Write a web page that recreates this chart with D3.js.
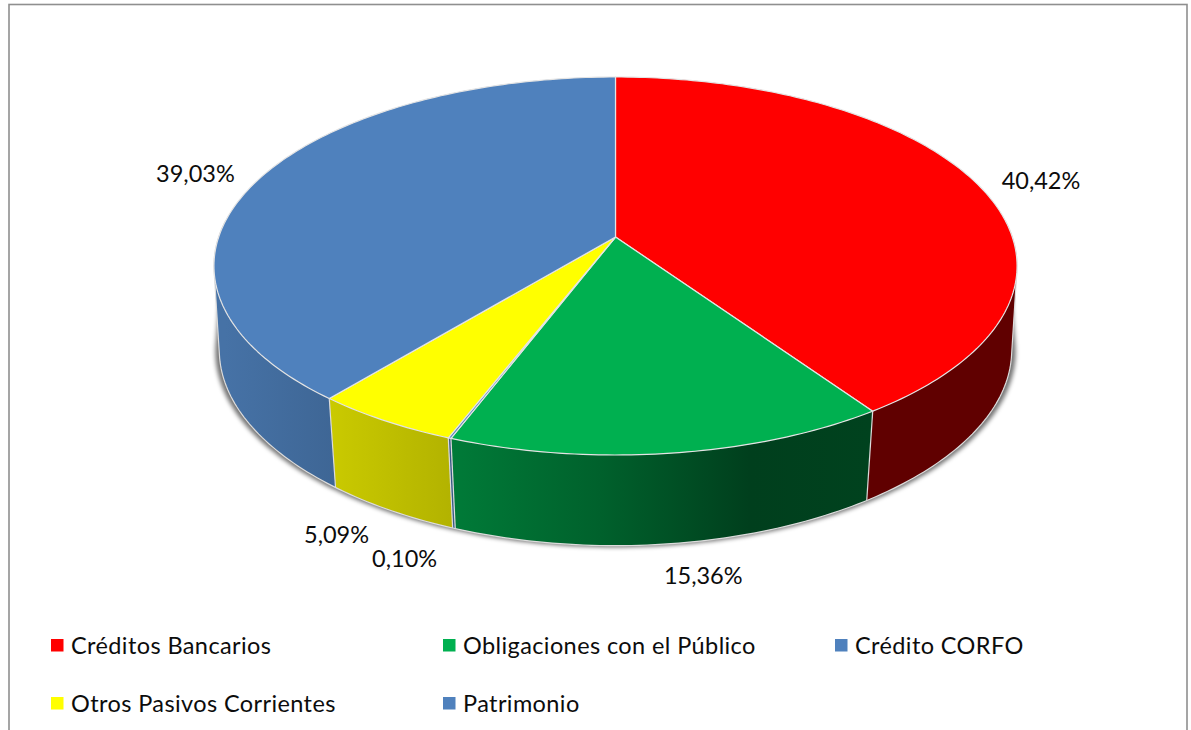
<!DOCTYPE html>
<html>
<head>
<meta charset="utf-8">
<script src="https://cdn.jsdelivr.net/npm/d3@7"></script>
<style>
  html, body { margin: 0; padding: 0; background: #fff; }
  svg { display: block; }
  text { font-family: Lato, "Open Sans", sans-serif; fill: #0c0c0c; }
</style>
</head>
<body>
<svg id="chart" width="1191" height="730"></svg>
<script>
// Composition of liabilities and equity, in percent
const categories = ["Créditos Bancarios", "Obligaciones con el Público", "Crédito CORFO", "Otros Pasivos Corrientes", "Patrimonio"];
const shares = [40.42, 15.36, 0.10, 5.09, 39.03];
const sliceColors = ["#ff0000", "#00b050", "#4f81bd", "#ffff00", "#4f81bd"];

// Brightness of the rim as it turns away from the light, left to right
const rimLightX = [225, 335, 450, 600, 750, 870];
const rimLightK = [0.88, 0.79, 0.70, 0.55, 0.36, 0.375];

// Label offset from the rim midpoint of each slice
const labelOffsets = [[63, -4], [32, 123], [-45, 121], [-48, 114], [-65, -4]];

// Projection of the tilted disc
const cx = 615.5, apexY = 237;
const persp = -0.1534, depthA = 148.2, radiusX = 396.8;
const topCentreY = 266, rimScaleY = 1.03, rimCentreY = 351;
const edgeColor = "#dcdcdc";

function projectTop(theta) {
  const u = Math.sin(theta), v = -Math.cos(theta);
  const w = 1 + persp * v;
  return [cx + radiusX * u / w, (depthA * v + apexY) / w];
}
// The lower edge narrows a little more towards the viewer than at the flanks
function projectBottom(theta) {
  const [x, y] = projectTop(theta);
  const v = -Math.cos(theta);
  const scaleX = 0.987 - 0.015 * v * v;
  return [cx + scaleX * (x - cx), rimCentreY + rimScaleY * (y - topCentreY)];
}
function sampleAngles(a0, a1) {
  const n = Math.max(2, Math.ceil((a1 - a0) / (Math.PI / 180)) + 1);
  return d3.range(n).map(i => a0 + (a1 - a0) * i / (n - 1));
}
const deg = Math.PI / 180;

const svg = d3.select("#chart");
const defs = svg.append("defs");
const pathLine = d3.line();

// Chart frame; its lower edge runs past the bottom of the page
svg.append("rect")
  .attr("x", 9).attr("y", 4.5).attr("width", 1178).attr("height", 780)
  .attr("fill", "#fff").attr("stroke", "#8f8f8f").attr("stroke-width", 1.6);

defs.append("filter").attr("id", "soften")
  .attr("x", "-5%").attr("y", "-5%").attr("width", "110%").attr("height", "115%")
  .append("feGaussianBlur").attr("stdDeviation", 2);

// One horizontal gradient per colour, shared light direction
const lightScale = d3.scaleLinear().domain(rimLightX).range(rimLightK).clamp(true);
sliceColors.forEach((c, i) => {
  const grad = defs.append("linearGradient").attr("id", "rim" + i)
    .attr("gradientUnits", "userSpaceOnUse")
    .attr("x1", rimLightX[0]).attr("x2", rimLightX[rimLightX.length - 1])
    .attr("y1", 0).attr("y2", 0);
  const base = d3.rgb(c);
  const span = rimLightX[rimLightX.length - 1] - rimLightX[0];
  rimLightX.forEach(x => {
    const k = lightScale(x);
    grad.append("stop")
      .attr("offset", (x - rimLightX[0]) / span)
      .attr("stop-color", d3.rgb(base.r * k, base.g * k, base.b * k).formatHex());
  });
});

const pie = d3.pie().sort(null).value(d => d).startAngle(0).endAngle(2 * Math.PI);
const arcs = pie(shares);

// Visible part of the rim only, the rest is behind the top face
const rimFrom = 85 * deg, rimTo = 275 * deg;
const rimAngles = sampleAngles(rimFrom, rimTo);

// Soft shadow: flares out from the disc edge, slightly wider than the rim
const shadowHull = d3.polygonHull(
  rimAngles.map(projectBottom).map(([x, y]) => [cx + 1.01 * (x - cx), y + 1.5])
    .concat(sampleAngles(108 * deg, 252 * deg).map(projectTop))
);
svg.append("path")
  .attr("d", pathLine(shadowHull) + "Z")
  .attr("fill", "#000").attr("fill-opacity", 0.55)
  .attr("filter", "url(#soften)");

// Rim wall: swept as small quads, so the flanks follow the outer tangent
const rimGroup = svg.append("g");
arcs.forEach((a, i) => {
  const a0 = Math.max(a.startAngle, rimFrom), a1 = Math.min(a.endAngle, rimTo);
  if (a1 <= a0) return;
  const ts = sampleAngles(a0, a1);
  const quads = d3.pairs(ts).map(([t0, t1]) => {
    const q = [projectTop(t0), projectTop(t1), projectBottom(t1), projectBottom(t0)];
    return pathLine(d3.polygonArea(q) < 0 ? q.reverse() : q) + "Z";
  });
  rimGroup.append("path")
    .attr("d", quads.join(""))
    .attr("fill", `url(#rim${i})`);
});

// Light outline around the whole rim, the top face hides its upper half
const rimHull = d3.polygonHull(rimAngles.map(projectTop).concat(rimAngles.map(projectBottom)));
rimGroup.append("path")
  .attr("d", pathLine(rimHull) + "Z")
  .attr("fill", "none")
  .attr("stroke", edgeColor).attr("stroke-width", 1.2);

// Seams between slices on the rim
arcs.map(a => a.endAngle).filter(t => t > rimFrom && t < rimTo).forEach(t => {
  rimGroup.append("path")
    .attr("d", pathLine([projectTop(t), projectBottom(t)]))
    .attr("stroke", edgeColor).attr("stroke-width", 1.2);
});

// Top face
const topFace = svg.append("g");
arcs.forEach((a, i) => {
  const pts = [[cx, apexY]].concat(sampleAngles(a.startAngle, a.endAngle).map(projectTop));
  topFace.append("path")
    .attr("d", pathLine(pts) + "Z")
    .attr("fill", sliceColors[i])
    .attr("stroke", "#e4e4e4").attr("stroke-width", 1.2).attr("stroke-linejoin", "round");
});

// Value labels
const labels = svg.append("g").attr("font-size", 23.5).attr("text-anchor", "middle");
arcs.forEach((a, i) => {
  const [x, y] = projectTop((a.startAngle + a.endAngle) / 2);
  labels.append("text")
    .attr("x", x + labelOffsets[i][0])
    .attr("y", y + labelOffsets[i][1])
    .attr("dy", "0.35em")
    .text(shares[i].toFixed(2).replace(".", ",") + "%");
});

// Legend: three columns, two rows
const legendX = d3.scalePoint().domain([0, 1, 2]).range([51, 835]);
const legendY = d3.scalePoint().domain([0, 1]).range([639, 697]);
const legend = svg.append("g").attr("font-size", 23.5).attr("letter-spacing", 0.4);
categories.forEach((name, i) => {
  const col = i % 3, row = Math.floor(i / 3);
  legend.append("rect")
    .attr("x", legendX(col)).attr("y", legendY(row))
    .attr("width", 12.5).attr("height", 12.5)
    .attr("fill", sliceColors[i]);
  legend.append("text")
    .attr("x", legendX(col) + 20).attr("y", legendY(row) + 14.5)
    .text(name);
});
</script>
</body>
</html>
